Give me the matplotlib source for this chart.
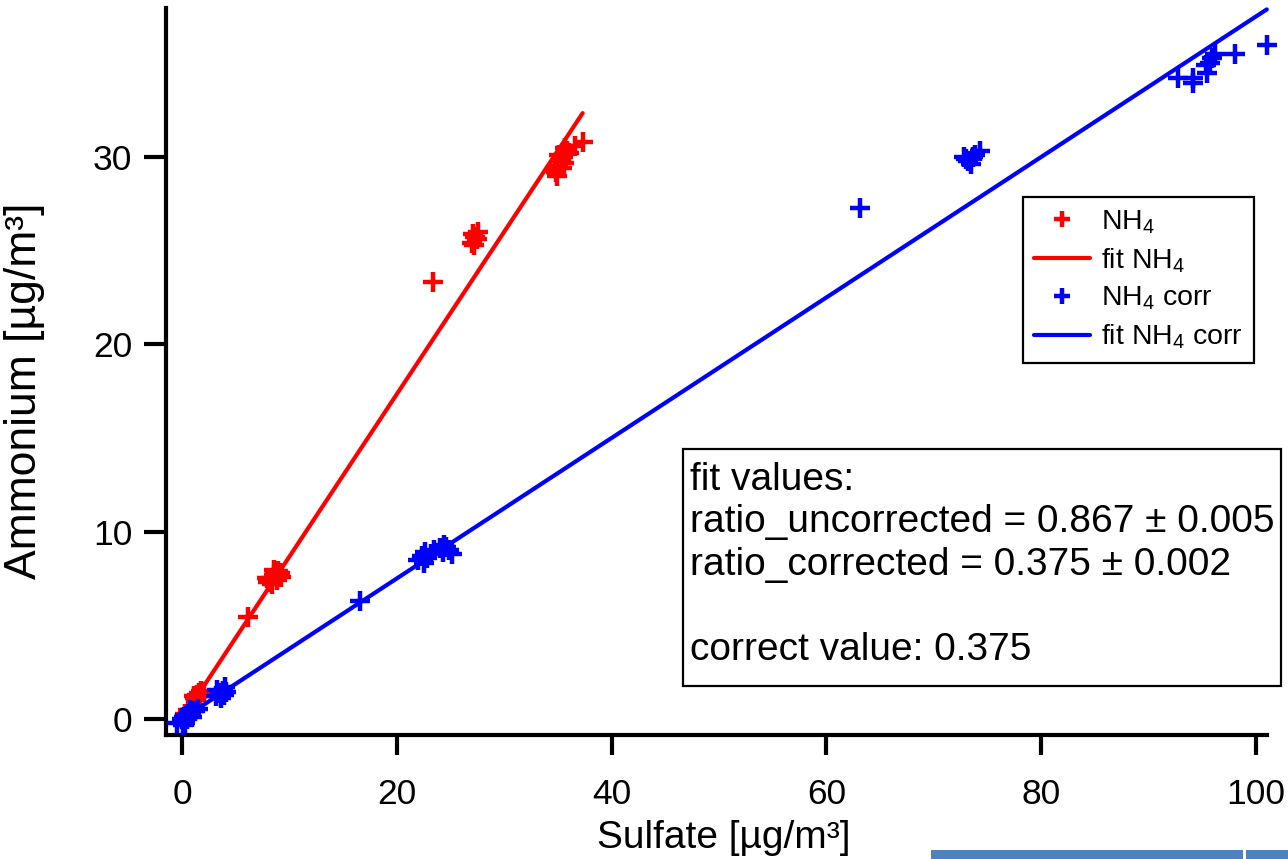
import matplotlib
matplotlib.use("Agg")
import matplotlib.pyplot as plt
from matplotlib.patches import Rectangle
import numpy as np

plt.rcParams['font.family'] = ['Liberation Sans', 'DejaVu Sans']
plt.rcParams['mathtext.fontset'] = 'custom'
plt.rcParams['mathtext.rm'] = 'Liberation Sans'
plt.rcParams['mathtext.it'] = 'Liberation Sans:italic'
plt.rcParams['mathtext.bf'] = 'Liberation Sans:bold'

# Uncorrected ammonium vs. sulfate (µg/m³)
sulfate_raw = [0.3, 0.6, 1.1, 1.2, 1.3, 1.4, 1.6, 1.7, 1.8, 2.0,
               6.1,
               7.9, 8.0, 8.3, 8.4, 8.6, 8.6, 8.8, 8.9, 9.1, 9.2,
               23.4,
               27.0, 27.1, 27.2, 27.3, 27.5, 27.6,
               34.7, 34.8, 34.9, 35.0, 35.1, 35.2, 35.4, 35.5, 35.6, 35.7,
               35.8, 36.0, 36.6, 37.3]
ammonium_raw = [0.25, 0.5, 1.25, 1.1, 1.0, 1.3, 1.4, 1.2, 1.5, 1.45,
                5.45,
                7.5, 7.3, 7.5, 7.2, 7.7, 7.95, 7.4, 7.9, 7.8, 7.6,
                23.3,
                25.4, 25.9, 25.3, 25.7, 25.6, 26.0,
                29.4, 29.2, 29.0, 29.5, 30.1, 29.8, 29.4, 30.0, 29.7, 30.5,
                30.3, 30.2, 30.6, 30.8]

# Corrected ammonium vs. sulfate (µg/m³)
sulfate_corr = [-0.5, 0.0, 0.1, 0.2, 0.3, 0.4, 0.5, 0.6, 0.7, 0.8, 0.9, 1.0, 1.2, 1.5,
                3.2, 3.3, 3.5, 3.6, 3.8, 3.9, 4.0, 4.1,
                16.6,
                22.0, 22.3, 22.5, 22.6, 22.8, 23.2, 23.5, 24.0, 24.3, 24.4, 24.6, 24.9, 25.1,
                63.1,
                72.8, 73.0, 73.2, 73.5, 73.6, 73.8, 74.3,
                92.7, 94.1, 94.1, 95.3, 95.4, 95.7, 95.9, 96.2,
                98.0, 101.0]
ammonium_corr = [-0.2, 0.0, -0.3, 0.1, -0.2, 0.15, 0.0, 0.25, 0.5, 0.3, 0.1, 0.4, 0.45, 0.55,
                 1.2, 1.55, 1.4, 1.1, 1.5, 1.3, 1.7, 1.45,
                 6.3,
                 8.5, 8.7, 8.3, 8.9, 8.6, 8.8, 9.0, 9.1, 8.9, 9.3, 9.2, 9.0, 8.8,
                 27.3,
                 30.0, 29.9, 29.8, 29.6, 30.0, 30.1, 30.3,
                 34.2, 34.2, 33.95, 34.9, 34.5, 35.0, 35.3, 35.5,
                 35.5, 36.0]

ratio_uncorrected = 0.867
ratio_uncorrected_err = 0.005
ratio_corrected = 0.375
ratio_corrected_err = 0.002
correct_value = 0.375

x_ticks = [0, 20, 40, 60, 80, 100]
y_ticks = [0, 10, 20, 30]

RED = '#ff0000'
BLUE = '#0000ff'

W, H = 1288, 859
fig = plt.figure(figsize=(W / 100, H / 100), dpi=100)
ax = fig.add_axes([165.5 / W, 1 - 734.5 / H, (1267 - 165.5) / W, (734.5 - 8) / H])

mk = dict(linestyle='none', marker='+', markersize=15, markeredgewidth=3.2, clip_on=False)

ax.plot(sulfate_raw, ammonium_raw, color=RED, label='NH$_4$', zorder=3, **mk)
xr = np.array([min(sulfate_raw), max(sulfate_raw)])
ax.plot(xr, ratio_uncorrected * xr, color=RED, lw=3, solid_capstyle='round',
        label='fit NH$_4$', zorder=4, clip_on=False)
ax.plot(sulfate_corr, ammonium_corr, color=BLUE, label='NH$_4$ corr', zorder=5, **mk)
xc = np.array([min(sulfate_corr), max(sulfate_corr)])
ax.plot(xc, ratio_corrected * xc, color=BLUE, lw=3, solid_capstyle='round',
        label='fit NH$_4$ corr', zorder=6, clip_on=False)

ax.set_xlim(-1.54, 101.02)
ax.set_ylim(-0.83, 37.95)
ax.set_xticks(x_ticks)
ax.set_yticks(y_ticks)

for s in ['top', 'right']:
    ax.spines[s].set_visible(False)
for s in ['left', 'bottom']:
    ax.spines[s].set_linewidth(3)
    ax.spines[s].set_capstyle('projecting')

ax.tick_params(axis='x', direction='out', length=14.5, width=3, pad=16.5, labelsize=25.5)
ax.tick_params(axis='y', direction='out', length=16, width=3, pad=8, labelsize=25.5)

ax.set_xlabel('Sulfate [µg/m³]', fontsize=28)
ax.set_ylabel('Ammonium [µg/m³]', fontsize=32)
ax.xaxis.set_label_coords((724 - 165.5) / 1101.5, (734.5 - 838) / 726.5)
ax.yaxis.set_label_coords((25 - 165.5) / 1101.5, (734.5 - 391) / 726.5)
ax.xaxis.label.set_va('center')
ax.yaxis.label.set_va('center')

leg = ax.legend(loc='upper left', bbox_to_anchor=(1023 / W, 1 - 197 / H),
                bbox_transform=fig.transFigure, borderaxespad=0, fontsize=20.5,
                frameon=True, fancybox=False, framealpha=1, edgecolor='black',
                handlelength=1.95, handletextpad=0.4, labelspacing=0.36,
                borderpad=0.4, markerscale=0.75)
leg.get_frame().set_linewidth(1.6)

fig.patches.append(Rectangle((683 / W, 1 - 686 / H), (1281 - 683) / W, (686 - 449) / H,
                             transform=fig.transFigure, facecolor='white',
                             edgecolor='black', linewidth=1.6, zorder=10))
box_text = ("fit values:\n"
            f"ratio_uncorrected = {ratio_uncorrected:.3f} ± {ratio_uncorrected_err:.3f}\n"
            f"ratio_corrected = {ratio_corrected:.3f} ± {ratio_corrected_err:.3f}\n"
            "\n"
            f"correct value: {correct_value:.3f}")
fig.text(690 / W, 1 - 462 / H, box_text, fontsize=28, va='top', ha='left',
         linespacing=1.23, zorder=11)

# status strip along the lower edge
fig.patches.append(Rectangle((931 / W, 0), (1243 - 931) / W, 9 / H,
                             transform=fig.transFigure, facecolor='#4f81bd',
                             edgecolor='none', zorder=12))
fig.patches.append(Rectangle((1246 / W, 0), (W - 1246) / W, 9 / H,
                             transform=fig.transFigure, facecolor='#4f81bd',
                             edgecolor='none', zorder=12))

fig.savefig('out.png', dpi=100)
